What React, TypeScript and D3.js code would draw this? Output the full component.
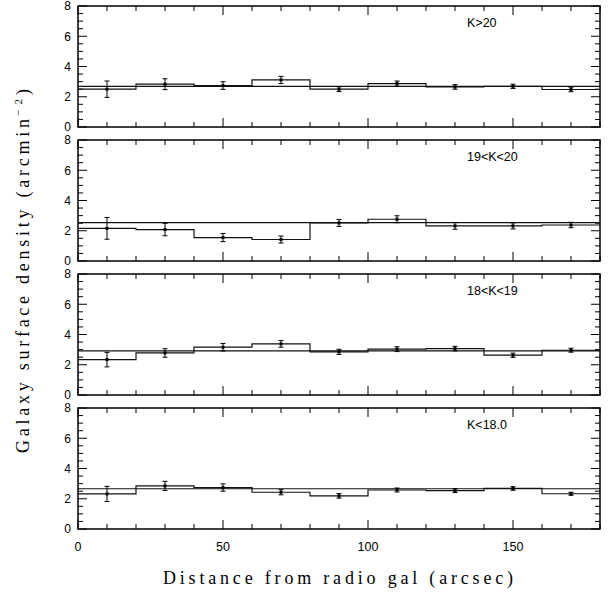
import React from "react";
import * as d3 from "d3";

const binEdges = [0, 20, 40, 60, 80, 100, 120, 140, 160, 180];
const binCenters = [10, 30, 50, 70, 90, 110, 130, 150, 170];

const panelLabels = ["K>20", "19<K<20", "18<K<19", "K<18.0"];

const densK20 = [2.5, 2.83, 2.74, 3.11, 2.5, 2.87, 2.65, 2.69, 2.48];
const errK20 = [0.54, 0.36, 0.25, 0.24, 0.16, 0.17, 0.15, 0.14, 0.15];
const meanK20 = 2.69;

const densK1920 = [2.16, 2.08, 1.55, 1.42, 2.52, 2.76, 2.32, 2.32, 2.38];
const errK1920 = [0.72, 0.41, 0.27, 0.23, 0.23, 0.23, 0.22, 0.2, 0.18];
const meanK1920 = 2.54;

const densK1819 = [2.34, 2.78, 3.16, 3.38, 2.85, 3.03, 3.07, 2.63, 2.96];
const errK1819 = [0.48, 0.28, 0.25, 0.22, 0.17, 0.16, 0.15, 0.14, 0.13];
const meanK1819 = 2.92;

const densK18 = [2.32, 2.85, 2.74, 2.43, 2.19, 2.58, 2.54, 2.68, 2.33];
const errK18 = [0.5, 0.3, 0.24, 0.17, 0.15, 0.13, 0.13, 0.12, 0.1];
const meanK18 = 2.66;

const yTickLabels = [0, 2, 4, 6, 8];
const xTickLabels = [0, 50, 100, 150];

const panels = [
  { label: panelLabels[0], dens: densK20, err: errK20, mean: meanK20 },
  { label: panelLabels[1], dens: densK1920, err: errK1920, mean: meanK1920 },
  { label: panelLabels[2], dens: densK1819, err: errK1819, mean: meanK1819 },
  { label: panelLabels[3], dens: densK18, err: errK18, mean: meanK18 },
];

const W = 609;
const H = 594;
const left = 78;
const right = 600;
const top0 = 6;
const spacing = 134;
const ph = 121;
const sans = "'Liberation Sans', Arial, sans-serif";
const serif = "'Liberation Serif', 'DejaVu Serif', serif";

export default function App() {
  const x = d3.scaleLinear().domain([0, 180]).range([left, right]);
  const xMinor = d3.range(0, 181, 10);
  const yMinor = d3.range(0, 8.01, 0.5);

  return (
    <svg width={W} height={H} style={{ position: "absolute", left: 0, top: 0, background: "#fff" }}>
      {panels.map((p, pi) => {
        const top = top0 + pi * spacing;
        const y = d3.scaleLinear().domain([0, 8]).range([top + ph, top]);
        const stepPts: [number, number][] = binEdges.map((e, i) => [
          e,
          p.dens[Math.min(i, p.dens.length - 1)],
        ]);
        const line = d3
          .line<[number, number]>()
          .x((d) => x(d[0]))
          .y((d) => y(d[1]))
          .curve(d3.curveStepAfter);
        return (
          <g key={pi}>
            {xMinor.map((t) => {
              const major = t % 50 === 0;
              const len = major ? 9 : 5;
              return (
                <g key={"xt" + t}>
                  <line x1={x(t)} x2={x(t)} y1={top + ph} y2={top + ph - len} stroke="#000" strokeWidth={1} />
                  <line x1={x(t)} x2={x(t)} y1={top} y2={top + len} stroke="#000" strokeWidth={1} />
                </g>
              );
            })}
            {yMinor.map((t) => {
              const major = Math.abs(t % 2) < 1e-6;
              const len = major ? 9 : 5;
              return (
                <g key={"yt" + t}>
                  <line x1={left} x2={left + len} y1={y(t)} y2={y(t)} stroke="#000" strokeWidth={1} />
                  <line x1={right} x2={right - len} y1={y(t)} y2={y(t)} stroke="#000" strokeWidth={1} />
                </g>
              );
            })}
            {yTickLabels.map((t) => (
              <text key={"yl" + t} x={71} y={y(t)} dy="0.36em" textAnchor="end" fontFamily={sans} fontSize={12}>
                {t}
              </text>
            ))}
            <line x1={left} x2={right} y1={y(p.mean)} y2={y(p.mean)} stroke="#111" strokeWidth={1.2} />
            <path d={line(stepPts) || ""} fill="none" stroke="#111" strokeWidth={1.2} />
            {binCenters.map((c, i) => {
              const cx = x(c);
              const v = p.dens[i];
              const e = p.err[i];
              return (
                <g key={"e" + i}>
                  <line x1={cx} x2={cx} y1={y(v - e)} y2={y(v + e)} stroke="#000" strokeWidth={1} />
                  <line x1={cx - 2.5} x2={cx + 2.5} y1={y(v - e)} y2={y(v - e)} stroke="#000" strokeWidth={1} />
                  <line x1={cx - 2.5} x2={cx + 2.5} y1={y(v + e)} y2={y(v + e)} stroke="#000" strokeWidth={1} />
                  <rect x={cx - 1.5} y={y(v) - 1.5} width={3} height={3} fill="#000" />
                </g>
              );
            })}
            <rect x={left} y={top} width={right - left} height={ph} fill="none" stroke="#000" strokeWidth={1.5} />
            <text x={467} y={top + 21} fontFamily={sans} fontSize={12.5}>
              {p.label}
            </text>
          </g>
        );
      })}
      {xTickLabels.map((t) => (
        <text key={"xl" + t} x={x(t)} y={551} textAnchor="middle" fontFamily={sans} fontSize={12.5}>
          {t}
        </text>
      ))}
      <text
        x={338}
        y={584}
        textAnchor="middle"
        fontFamily={serif}
        fontSize={18}
        textLength={350}
        lengthAdjust="spacing"
      >
        Distance from radio gal (arcsec)
      </text>
      <g transform="translate(29,453) rotate(-90)" fontFamily={serif} fontSize={18}>
        <text x={0} y={0} textLength={334} lengthAdjust="spacing">
          Galaxy surface density (arcmin
        </text>
        <text x={337} y={-7} fontSize={11} textLength={17} lengthAdjust="spacing">
          −2
        </text>
        <text x={358} y={0}>
          )
        </text>
      </g>
    </svg>
  );
}
